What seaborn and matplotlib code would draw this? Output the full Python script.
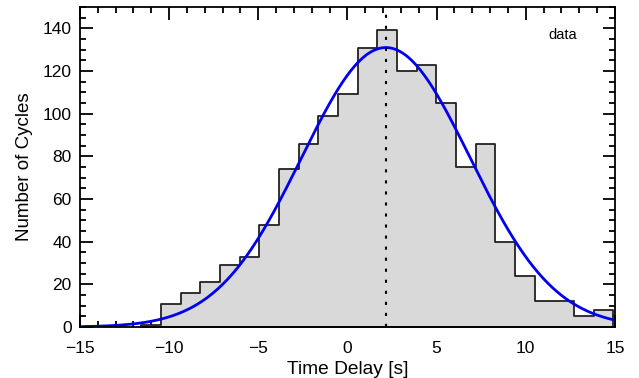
import numpy as np
import pandas as pd
import matplotlib
matplotlib.use("Agg")
import matplotlib.pyplot as plt
from matplotlib.ticker import MultipleLocator
import seaborn as sns

# histogram
bin_start = -11.56
bin_width = 1.103
counts = [1, 11, 16, 21, 29, 33, 48, 74, 86, 99, 109, 131,
          139, 120, 123, 105, 75, 86, 40, 24, 12, 12, 5, 8]

# gaussian fit parameters
fit_peak = 131.0
fit_center = 2.15
fit_sigma = 4.72

edges = bin_start + bin_width * np.arange(len(counts) + 1)
centers = (edges[:-1] + edges[1:]) / 2
df = pd.DataFrame({"delay": centers, "n": counts})

xfit = np.linspace(-15, 15, 400)
fit = pd.DataFrame({"x": xfit,
                    "y": fit_peak * np.exp(-(xfit - fit_center) ** 2 / (2 * fit_sigma ** 2))})

sns.set_style("ticks")
plt.rcParams['font.family'] = ['Liberation Sans', 'DejaVu Sans']
for k in ["text.color", "axes.labelcolor", "xtick.color", "ytick.color", "axes.edgecolor"]:
    plt.rcParams[k] = "black"

fig = plt.figure(figsize=(6.39, 3.78), dpi=100)
ax = fig.add_axes([0.1252, 0.1349, 0.8372, 0.8466])

sns.histplot(data=df, x="delay", weights="n", bins=list(edges), element="step",
             fill=True, color="#d9d9d9", alpha=1, edgecolor="#222222",
             linewidth=1.3, ax=ax)
sns.lineplot(data=fit, x="x", y="y", color="#0000ee", linewidth=2, ax=ax)
ax.axvline(fit_center, color="black", linestyle=(0, (1.5, 3.8)), linewidth=1.5)

ax.text(12.05, 137, "data", fontsize=10.5, ha="center", va="center")

ax.set_xlim(-15, 15)
ax.set_ylim(0, 150)
ax.xaxis.set_major_locator(MultipleLocator(5))
ax.xaxis.set_minor_locator(MultipleLocator(1))
ax.yaxis.set_major_locator(MultipleLocator(20))
ax.yaxis.set_minor_locator(MultipleLocator(5))
ax.tick_params(which="both", direction="in", top=True, right=True,
               width=1.3, labelsize=12.5)
ax.tick_params(axis="x", which="both", pad=10)
ax.tick_params(axis="y", which="both", pad=6)
ax.tick_params(which="major", length=9)
ax.tick_params(which="minor", length=4.5)
for s in ax.spines.values():
    s.set_linewidth(1.3)

ax.set_xlabel("Time Delay [s]", fontsize=13.8, labelpad=4)
ax.set_ylabel("Number of Cycles", fontsize=13.5, labelpad=7)

fig.savefig("out.png", dpi=100)
